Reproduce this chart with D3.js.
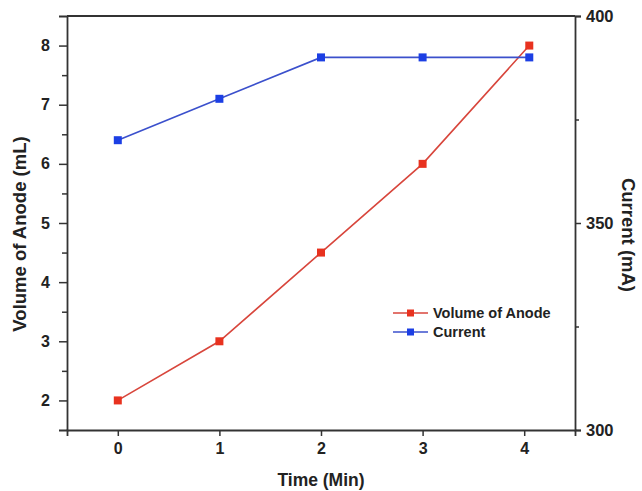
<!DOCTYPE html>
<html>
<head>
<meta charset="utf-8">
<script src="https://cdn.jsdelivr.net/npm/d3@7/dist/d3.min.js"></script>
<style>
  html, body { margin: 0; padding: 0; background: #fff; }
  svg { display: block; font-family: "Liberation Sans", Arial, Helvetica, sans-serif; font-weight: bold; }
</style>
</head>
<body>
<svg id="chart" width="642" height="491"></svg>
<script>
// Time (min) for each sample
const timeVolume = [0, 1, 2, 3, 4.05];
const timeCurrent = [0, 1, 2, 3, 4.05];
// Anode volume (mL)
const volume = [2, 3, 4.5, 6, 8];
// Current (mA)
const current = [370, 380, 390, 390, 390];

const xTicks = [0, 1, 2, 3, 4];
const leftTicks = [2, 3, 4, 5, 6, 7, 8];
const leftMinor = [2.5, 3.5, 4.5, 5.5, 6.5, 7.5];
const rightTicks = [300, 350, 400];
const rightMinor = [325, 375];

const seriesNames = ["Volume of Anode", "Current"];

const margin = { left: 67, right: 67, top: 16, bottom: 61 };
const W = 642, H = 491;
const svg = d3.select("#chart");

const x = d3.scaleLinear().domain([-0.5, 4.5]).range([margin.left, W - margin.right]);
const yL = d3.scaleLinear().domain([1.5, 8.5]).range([H - margin.bottom, margin.top]);
const yR = d3.scaleLinear().domain([300, 400]).range([H - margin.bottom, margin.top]);

const axisColor = "#333";
const red = "#e8321f", redLine = "#d8463c";
const blue = "#1c3fe4", blueLine = "#3b50cc";

// frame top edge
svg.append("line")
  .attr("x1", margin.left).attr("x2", W - margin.right)
  .attr("y1", margin.top).attr("y2", margin.top)
  .attr("stroke", axisColor).attr("stroke-width", 1.8);

function styleAxis(g, size) {
  g.selectAll(".domain").attr("stroke", axisColor).attr("stroke-width", 1.8);
  g.selectAll(".tick line").attr("stroke", axisColor).attr("stroke-width", 1.5);
  g.selectAll(".tick text").attr("fill", "#222").style("font-size", size + "px").style("font-weight", "bold");
}

// bottom axis
const gx = svg.append("g").attr("transform", `translate(0,${H - margin.bottom})`)
  .call(d3.axisBottom(x).tickValues(xTicks).tickFormat(d3.format("d")).tickSizeOuter(0).tickSize(6).tickPadding(7));
styleAxis(gx, 16);

// left axis
const gl = svg.append("g").attr("transform", `translate(${margin.left},0)`)
  .call(d3.axisLeft(yL).tickValues(leftTicks).tickFormat(d3.format("d")).tickSizeOuter(0).tickSize(8).tickPadding(9));
styleAxis(gl, 16);
svg.append("g").attr("transform", `translate(${margin.left},0)`)
  .call(d3.axisLeft(yL).tickValues(leftMinor).tickFormat("").tickSize(5))
  .call(g => { g.select(".domain").remove(); g.selectAll(".tick line").attr("stroke", axisColor).attr("stroke-width", 1.5); });

// right axis
const gr = svg.append("g").attr("transform", `translate(${W - margin.right},0)`)
  .call(d3.axisRight(yR).tickValues(rightTicks).tickFormat(d3.format("d")).tickSizeOuter(0).tickSize(6).tickPadding(5));
styleAxis(gr, 16.5);
svg.append("g").attr("transform", `translate(${W - margin.right},0)`)
  .call(d3.axisRight(yR).tickValues(rightMinor).tickFormat("").tickSize(4))
  .call(g => { g.select(".domain").remove(); g.selectAll(".tick line").attr("stroke", axisColor).attr("stroke-width", 1.5); });

// axis titles
svg.append("text")
  .attr("transform", `translate(26,234) rotate(-90)`)
  .attr("text-anchor", "middle").attr("fill", "#222")
  .style("font-size", "18.5px").text("Volume of Anode (mL)");
svg.append("text")
  .attr("transform", `translate(622,235) rotate(90)`)
  .attr("text-anchor", "middle").attr("fill", "#222")
  .style("font-size", "18.5px").text("Current (mA)");
svg.append("text")
  .attr("x", 321).attr("y", 486)
  .attr("text-anchor", "middle").attr("fill", "#222")
  .style("font-size", "17.5px").text("Time (Min)");

// series
const volData = timeVolume.map((t, i) => [t, volume[i]]);
const curData = timeCurrent.map((t, i) => [t, current[i]]);

svg.append("path").datum(volData)
  .attr("fill", "none").attr("stroke", redLine).attr("stroke-width", 1.6)
  .attr("d", d3.line().x(d => x(d[0])).y(d => yL(d[1])));
svg.append("path").datum(curData)
  .attr("fill", "none").attr("stroke", blueLine).attr("stroke-width", 1.6)
  .attr("d", d3.line().x(d => x(d[0])).y(d => yR(d[1])));

const ms = 8;
svg.selectAll(".mv").data(volData).enter().append("rect")
  .attr("x", d => x(d[0]) - ms / 2).attr("y", d => yL(d[1]) - ms / 2)
  .attr("width", ms).attr("height", ms).attr("fill", red);
svg.selectAll(".mc").data(curData).enter().append("rect")
  .attr("x", d => x(d[0]) - ms / 2).attr("y", d => yR(d[1]) - ms / 2)
  .attr("width", ms).attr("height", ms).attr("fill", blue);

// legend
const legend = svg.append("g").attr("transform", "translate(393,313)");
const legendColors = [[redLine, red], [blueLine, blue]];
seriesNames.forEach((name, i) => {
  const g = legend.append("g").attr("transform", `translate(0,${i * 19})`);
  g.append("line").attr("x1", 0).attr("x2", 35).attr("y1", 0).attr("y2", 0)
    .attr("stroke", legendColors[i][0]).attr("stroke-width", 1.6);
  g.append("rect").attr("x", 17.5 - 3.5).attr("y", -3.5).attr("width", 7).attr("height", 7)
    .attr("fill", legendColors[i][1]);
  g.append("text").attr("x", 40).attr("y", 5).attr("fill", "#222")
    .style("font-size", "14.5px").text(name);
});
</script>
</body>
</html>
